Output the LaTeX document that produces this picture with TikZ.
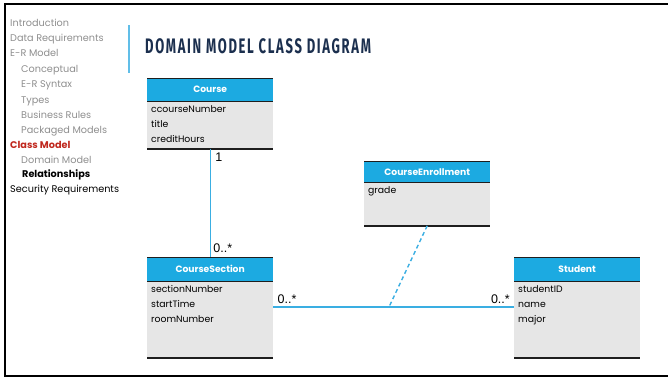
\documentclass[tikz,border=0pt]{standalone}
\usepackage{fontspec}
\setmainfont{Poppins}
\newfontfamily\titlefont[FakeStretch=0.62, LetterSpace=8]{Fira Sans}
\newfontfamily\mulfont{Liberation Sans}
\usepackage{tikz}
\usetikzlibrary{arrows.meta,positioning,calc}

\definecolor{hdrblue}{HTML}{1CAAE1}
\definecolor{bodygray}{HTML}{E6E6E6}
\definecolor{linkblue}{HTML}{3AAEE2}
\definecolor{menugray}{HTML}{8E8E8E}
\definecolor{menured}{HTML}{C0281E}
\definecolor{titlenavy}{HTML}{1B2F4E}
\definecolor{edgedark}{HTML}{1E1E1E}

\begin{document}
\begin{tikzpicture}[x=1pt, y=-1pt,
  menu/.style={anchor=base west, inner sep=0, font=\fontsize{9.7}{10}\selectfont, text=menugray},
  menured/.style={menu, text=menured, font=\fontsize{9.7}{10}\selectfont\bfseries},
  menubold/.style={menu, text=black, font=\fontsize{9.7}{10}\selectfont\bfseries},
  menublack/.style={menu, text=black},
  hdr/.style={rectangle, fill=hdrblue, text=white, font=\fontsize{9.2}{10}\selectfont\bfseries, minimum width=126pt, minimum height=23pt, inner sep=0, anchor=north west},
  cbody/.style={rectangle, fill=bodygray, minimum width=126pt, inner sep=0},
  attrs/.style={anchor=north west, align=left, inner sep=0, xshift=4pt, yshift=-4pt, font=\fontsize{9.3}{15}\selectfont},
  edge/.style={draw=edgedark, line width=0.8pt},
  thickedge/.style={draw=edgedark, line width=1.6pt},
  assoc/.style={draw=linkblue, line width=1.4pt},
  mult/.style={inner sep=0, font=\mulfont\fontsize{12.5}{12.5}\selectfont},
]
\useasboundingbox (0,0) rectangle (668,378);

% frame
\draw[line width=2pt, black] (668,4) -- (5,4) -- (5,376) -- (668,376);

% side menu
\foreach \n/\x/\y/\s/\t in {1/10/26/menu/Introduction, 2/10/41/menu/Data Requirements,
    3/10/56/menu/E-R Model, 4/21/72/menu/Conceptual, 5/21/87/menu/E-R Syntax,
    6/21/103/menu/Types, 7/21/118/menu/Business Rules, 8/21/133/menu/Packaged Models,
    9/10/148/menured/Class Model, 10/21/163/menu/Domain Model,
    11/22/177/menubold/Relationships, 12/10/192/menublack/Security Requirements}
  \node[\s] (menu\n) at (\x,\y) {\t};

\draw[linkblue!80, line width=1.2pt] (129,25) -- (129,73);

% title
\node[anchor=west, inner sep=0, text=titlenavy, font=\titlefont\bfseries\fontsize{21}{21}\selectfont] (title) at (145,46) {DOMAIN MODEL CLASS DIAGRAM};

% classes
\node[hdr] (course) at (147,78) {Course};
\node[cbody, below=0pt of course, minimum height=47pt] (coursebody) {};
\node[attrs] (courseattr) at (coursebody.north west) {ccourseNumber\\title\\creditHours};

\node[hdr, minimum height=21pt] (enroll) at (364,161) {CourseEnrollment};
\node[cbody, below=0pt of enroll, minimum height=43pt] (enrollbody) {};
\node[attrs] (enrollattr) at (enrollbody.north west) {grade};

\node[hdr, minimum height=24pt] (section) at (147,257) {CourseSection};
\node[cbody, below=0pt of section, minimum height=76pt] (sectionbody) {};
\node[attrs] (sectionattr) at (sectionbody.north west) {sectionNumber\\startTime\\roomNumber};

\node[hdr, minimum height=24pt] (student) at (514,257) {Student};
\node[cbody, below=0pt of student, minimum height=76pt] (studentbody) {};
\node[attrs] (studentattr) at (studentbody.north west) {studentID\\name\\major};

% box edges
\foreach \c in {course, enroll, section, student} {
  \draw[edge] (\c.north west) -- (\c.north east);
  \draw[thickedge] (\c.south west) -- (\c.south east);
  \draw[thickedge] (\c body.south west) -- (\c body.south east);
}

% associations
\coordinate (joint) at (389,307);
\draw[assoc] (coursebody.south) -- (section.north);
\draw[assoc] (sectionbody.east |- joint) -- (studentbody.west |- joint);
\draw[assoc, dashed, dash pattern=on 4pt off 3pt] (enrollbody.south) -- (joint);

\node[mult, anchor=north west] (m1) at ($(coursebody.south)+(5,4)$) {1};
\node[mult, anchor=south west] (m2) at ($(section.north)+(3,-4)$) {0..*};
\node[mult, anchor=south west] (m3) at ($(sectionbody.east |- joint)+(4,-3)$) {0..*};
\node[mult, anchor=south east] (m4) at ($(studentbody.west |- joint)+(-4,-3)$) {0..*};

\end{tikzpicture}
\end{document}
